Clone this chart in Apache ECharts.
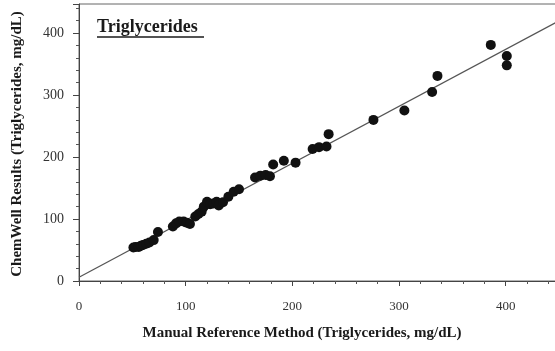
<!DOCTYPE html>
<html>
<head>
<meta charset="utf-8">
<style>
  html, body { margin: 0; padding: 0; background: #fff; }
  #chart { width: 555px; height: 351px; }
</style>
<script src="https://cdn.jsdelivr.net/npm/echarts@6/dist/echarts.min.js"></script>
</head>
<body>
<div id="chart"></div>
<script>
// manual reference method (x) vs ChemWell result (y), mg/dL
var refValues = [51, 53, 56, 58, 60, 63, 66, 70, 74,
  88, 91, 94, 98, 101, 104,
  109, 112, 115, 117, 120, 123,
  126, 129, 131, 135, 140,
  145, 150,
  165, 170, 175, 179, 182,
  192, 203,
  219, 225, 232, 234,
  276, 305, 331, 336, 386, 401, 401];
var chemwellValues = [54, 55, 55, 57, 58, 60, 62, 66, 79,
  88, 93, 96, 96, 94, 92,
  104, 108, 112, 120, 128, 124,
  125, 128, 122, 127, 136,
  144, 148,
  167, 170, 171, 169, 188,
  194, 191,
  213, 216, 217, 237,
  260, 275, 305, 331, 381, 363, 348];

// regression line ends
var fitX = [0, 449];
var fitY = [6, 419];

var points = refValues.map(function (x, i) { return [x, chemwellValues[i]]; });
var fitLine = fitX.map(function (x, i) { return [x, fitY[i]]; });

var serif = '"Liberation Serif", "DejaVu Serif", serif';

var chart = echarts.init(document.getElementById('chart'));
chart.setOption({
  animation: false,
  backgroundColor: '#fff',
  title: {
    text: 'Triglycerides',
    left: 97,
    top: 18,
    padding: 0,
    textStyle: { fontFamily: serif, fontSize: 18, fontWeight: 'bold', color: '#1a1a1a' }
  },
  grid: {
    left: 79, right: -3, top: 4, bottom: 70,
    outerBoundsMode: 'none',
    show: true, borderColor: '#666', borderWidth: 1
  },
  xAxis: {
    type: 'value',
    min: 0, max: 449, interval: 100,
    axisLine: { show: true, lineStyle: { color: '#444', width: 1 } },
    axisTick: { show: true, length: 5, lineStyle: { color: '#444' } },
    minorTick: { show: true, splitNumber: 5, length: 3, lineStyle: { color: '#555' } },
    splitLine: { show: false },
    axisLabel: {
      margin: 19,
      fontFamily: serif, fontSize: 13, color: '#333',
      formatter: function (v) { return v % 100 === 0 ? String(v) : ''; }
    }
  },
  yAxis: {
    type: 'value',
    min: 0, max: 447, interval: 100,
    offset: 4,
    axisLine: { show: true, lineStyle: { color: '#444', width: 1 } },
    axisTick: { show: true, length: 6, lineStyle: { color: '#444' } },
    minorTick: { show: true, splitNumber: 5, length: 3, lineStyle: { color: '#555' } },
    splitLine: { show: false },
    axisLabel: {
      margin: 11,
      fontFamily: serif, fontSize: 14, color: '#333',
      formatter: function (v) { return v % 100 === 0 ? String(v) : ''; }
    }
  },
  graphic: [
    {
      type: 'line',
      shape: { x1: 97, y1: 37, x2: 204, y2: 37 },
      style: { stroke: '#1a1a1a', lineWidth: 1.3 }
    },
    {
      type: 'text',
      x: 302, y: 333,
      style: {
        text: 'Manual Reference Method (Triglycerides, mg/dL)',
        font: 'bold 15px ' + serif,
        fill: '#1a1a1a', align: 'center', verticalAlign: 'middle'
      }
    },
    {
      type: 'text',
      x: 17, y: 144,
      rotation: Math.PI / 2,
      style: {
        text: 'ChemWell Results (Triglycerides, mg/dL)',
        font: 'bold 15px ' + serif,
        fill: '#1a1a1a', align: 'center', verticalAlign: 'middle'
      }
    }
  ],
  series: [
    {
      type: 'line',
      data: fitLine,
      symbol: 'none',
      lineStyle: { color: '#555', width: 1.2 },
      z: 1
    },
    {
      type: 'scatter',
      data: points,
      symbol: 'circle',
      symbolSize: 10,
      itemStyle: { color: '#111', opacity: 1 },
      z: 2
    }
  ]
});
</script>
</body>
</html>
